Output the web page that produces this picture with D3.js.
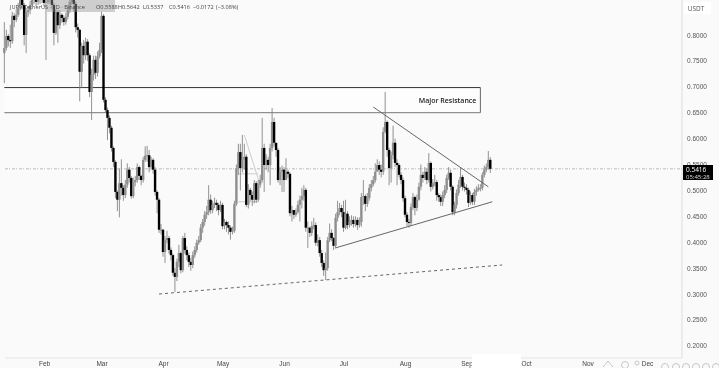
<!DOCTYPE html>
<html>
<head>
<meta charset="utf-8">
<script src="https://cdn.jsdelivr.net/npm/d3@7/dist/d3.min.js"></script>
<style>
  html, body { margin: 0; padding: 0; background: #fafafa; }
  svg { display: block; font-family: "Open Sans", "DejaVu Sans", sans-serif; }
</style>
</head>
<body>
<div id="chart"></div>
<script>
// Daily candles. Open of a candle = previous close.
const firstDay = "2024-01-12";
const firstOpen = 0.765;

const closes = [
  .775,.798,.790,.788,.837,.829,.839,.852,.871,.858,
  .800,.844,.848,.858,.868,.873,.864,.877,.868,.875,
  .862,.864,.873,.868,.858,.804,.844,.819,.839,.833,
  .825,.835,.848,.864,.873,.860,.815,.810,.729,.779,
  .761,.787,.761,.690,.723,.752,.727,.759,.771,.837,
  .675,.655,.640,.621,.582,.555,.497,.482,.514,.505,
  .491,.511,.540,.524,.489,.516,.520,.545,.528,.520,
  .559,.567,.568,.545,.559,.540,.497,.482,.424,.424,
  .381,.404,.408,.385,.375,.341,.333,.362,.379,.346,
  .408,.385,.375,.362,.356,.375,.385,.399,.404,.428,
  .439,.453,.458,.482,.462,.472,.476,.472,.462,.472,
  .431,.439,.433,.428,.420,.422,.474,.543,.574,.543,
  .559,.565,.472,.501,.491,.482,.514,.482,.511,.520,
  .582,.549,.559,.549,.582,.632,.592,.578,.520,.536,
  .540,.520,.536,.532,.456,.462,.453,.458,.472,.482,
  .489,.501,.428,.428,.418,.431,.433,.399,.404,.379,
  .360,.346,.350,.404,.418,.408,.393,.447,.458,.466,
  .458,.428,.455,.433,.439,.443,.435,.443,.433,.439,
  .487,.489,.474,.485,.505,.512,.520,.536,.549,.540,
  .536,.613,.632,.578,.543,.568,.592,.553,.549,.530,
  .520,.485,.453,.439,.437,.468,.487,.466,.482,.507,
  .530,.524,.536,.520,.553,.507,.514,.516,.491,.487,
  .478,.491,.501,.524,.534,.507,.458,.472,.495,.511,
  .526,.507,.505,.501,.476,.491,.478,.497,.501,.505,
  .505,.530,.540,.545,.559,.5416
];

const highs = [
  .825,.810,.802,.820,.845,.842,.850,.862,.880,.878,
  .862,.852,.856,.866,.876,.880,.875,.885,.880,.882,
  .880,.872,.880,.878,.870,.862,.850,.848,.848,.842,
  .838,.843,.855,.870,.880,.878,.865,.822,.812,.785,
  .790,.795,.792,.765,.735,.760,.760,.768,.785,.845,
  .840,.680,.660,.645,.625,.585,.558,.500,.542,.560,
  .510,.520,.552,.545,.528,.525,.528,.552,.548,.530,
  .565,.585,.586,.578,.565,.562,.545,.500,.485,.435,
  .426,.412,.422,.412,.390,.378,.350,.368,.395,.382,
  .412,.418,.392,.380,.370,.382,.392,.405,.412,.435,
  .445,.460,.470,.510,.492,.480,.486,.482,.476,.480,
  .476,.445,.442,.440,.432,.430,.480,.550,.590,.590,
  .607,.590,.570,.512,.505,.498,.520,.518,.520,.530,
  .640,.590,.570,.565,.590,.659,.640,.590,.582,.545,
  .548,.545,.562,.540,.535,.470,.462,.465,.480,.490,
  .505,.510,.505,.440,.430,.440,.447,.438,.415,.410,
  .385,.365,.380,.410,.436,.425,.410,.455,.480,.476,
  .472,.480,.482,.460,.450,.452,.450,.450,.448,.448,
  .495,.520,.492,.495,.512,.520,.528,.552,.560,.556,
  .550,.622,.690,.635,.582,.575,.625,.600,.560,.552,
  .535,.525,.490,.458,.445,.475,.495,.490,.492,.515,
  .550,.536,.545,.542,.572,.556,.522,.530,.520,.495,
  .492,.498,.510,.530,.545,.540,.510,.478,.502,.520,
  .545,.530,.515,.512,.505,.498,.495,.503,.508,.512,
  .512,.535,.548,.552,.576,.5642
];

const lows = [
  .707,.770,.778,.775,.783,.815,.825,.835,.848,.850,
  .780,.765,.835,.840,.855,.860,.855,.858,.860,.862,
  .855,.752,.860,.860,.850,.780,.800,.785,.812,.824,
  .818,.820,.830,.842,.858,.845,.805,.795,.672,.698,
  .745,.752,.750,.680,.636,.712,.715,.720,.755,.765,
  .670,.650,.597,.610,.575,.545,.485,.460,.448,.490,
  .480,.485,.505,.515,.484,.485,.508,.515,.520,.510,
  .515,.555,.555,.535,.540,.532,.490,.456,.418,.415,
  .372,.360,.398,.378,.365,.335,.304,.325,.352,.340,
  .342,.378,.365,.352,.345,.350,.370,.380,.395,.400,
  .418,.432,.445,.452,.455,.456,.466,.460,.452,.458,
  .425,.425,.420,.415,.405,.415,.418,.470,.530,.500,
  .535,.540,.468,.465,.480,.470,.475,.476,.478,.505,
  .515,.497,.540,.535,.510,.575,.585,.565,.515,.510,
  .497,.497,.520,.524,.450,.440,.445,.449,.455,.440,
  .465,.480,.420,.389,.410,.412,.425,.393,.392,.372,
  .352,.335,.327,.345,.400,.402,.385,.388,.440,.452,
  .448,.420,.425,.425,.428,.432,.428,.430,.424,.428,
  .430,.472,.460,.468,.480,.498,.508,.515,.538,.530,
  .525,.530,.610,.565,.510,.515,.560,.545,.510,.525,
  .512,.478,.448,.431,.428,.432,.462,.452,.460,.480,
  .500,.515,.520,.512,.515,.498,.502,.508,.480,.478,
  .470,.470,.485,.495,.520,.500,.452,.452,.465,.490,
  .505,.500,.498,.492,.468,.472,.472,.472,.490,.498,
  .498,.500,.525,.535,.540,.5337
];

const priceTicks = [.8,.75,.7,.65,.6,.55,.5,.45,.4,.35,.3,.25,.2];
const lastPrice = 0.5416;

// Drawn lines: [date, price] end points
const fallingLine = [["2024-07-16", .661], ["2024-09-12", .507]];
const risingLine = [["2024-06-27", .389], ["2024-09-14", .478]];
const baseLine = [["2024-03-30", .300], ["2024-09-19", .356]];
const sketchLines = [
  [["2024-05-12", .607], ["2024-05-20", .510]],
  [["2024-05-09", .478], ["2024-05-19", .478]],
  [["2024-05-09", .532], ["2024-05-19", .532]]
];
const resistance = { label: "Major Resistance", from: "2024-01-12", to: "2024-09-08", top: .6985, bottom: .65 };

const headerParts = [
  ["JUP / TetherUS · 1D · Binance", 10],
  ["O0.5588", 96],
  ["H0.5642", 118],
  ["L0.5337", 143],
  ["C0.5416", 169],
  ["−0.0172", 193],
  ["(−3.08%)", 216]
];

const width = 719, height = 368;
const parseDay = d3.utcParse("%Y-%m-%d");

const svg = d3.select("#chart").append("svg")
  .attr("width", width)
  .attr("height", height);

// the reference is a soft upscaled screenshot
svg.append("defs").append("filter")
  .attr("id", "soft")
  .attr("x", 0).attr("y", 0).attr("width", 1).attr("height", 1)
  .append("feGaussianBlur").attr("stdDeviation", 0.5);

const root = svg.append("g").attr("filter", "url(#soft)");
root.append("rect").attr("width", width).attr("height", height).attr("fill", "#fafafa");

// Scales
const x = d3.scaleUtc()
  .domain([parseDay("2024-02-01"), parseDay("2024-12-01")])
  .range([44, 647]);
const y = d3.scaleLinear()
  .domain([.2, .8])
  .range([345.8, 35]);

const candles = closes.map((c, i) => ({
  date: d3.utcDay.offset(parseDay(firstDay), i),
  open: i ? closes[i - 1] : firstOpen,
  close: c,
  high: highs[i],
  low: lows[i]
}));

// Resistance box, under the candles
root.append("rect")
  .attr("x", x(parseDay(resistance.from)))
  .attr("y", y(resistance.top))
  .attr("width", x(parseDay(resistance.to)) - x(parseDay(resistance.from)))
  .attr("height", y(resistance.bottom) - y(resistance.top))
  .attr("fill", "#fdfdfd");
root.append("line")
  .attr("x1", x(parseDay(resistance.from))).attr("x2", x(parseDay(resistance.to)))
  .attr("y1", y(resistance.top)).attr("y2", y(resistance.top))
  .attr("stroke", "#333");
root.append("line")
  .attr("x1", x(parseDay(resistance.from))).attr("x2", x(parseDay(resistance.to)))
  .attr("y1", y(resistance.bottom)).attr("y2", y(resistance.bottom))
  .attr("stroke", "#777");
root.append("line")
  .attr("x1", x(parseDay(resistance.to))).attr("x2", x(parseDay(resistance.to)))
  .attr("y1", y(resistance.top)).attr("y2", y(resistance.bottom))
  .attr("stroke", "#666");
root.append("text")
  .attr("x", x(parseDay(resistance.to)) - 4)
  .attr("y", (y(resistance.top) + y(resistance.bottom)) / 2 + 2.5)
  .attr("text-anchor", "end")
  .attr("font-size", 7)
  .attr("font-weight", 600)
  .attr("fill", "#222")
  .text(resistance.label);

// Current price line
root.append("line")
  .attr("x1", 5).attr("x2", 682)
  .attr("y1", y(lastPrice)).attr("y2", y(lastPrice))
  .attr("stroke", "#bbb")
  .attr("stroke-dasharray", "3,1,1,2");

// Thin sketch lines behind the candles
const lineGen = d3.line().x(d => x(parseDay(d[0]))).y(d => y(d[1]));
root.selectAll("path.sketch")
  .data(sketchLines)
  .enter()
  .append("path")
  .attr("class", "sketch")
  .attr("d", lineGen)
  .attr("fill", "none")
  .attr("stroke", "#ccc");

// Candles
const upColor = "#8f8f8f", downColor = "#000000";
const candleG = root.append("g");
candleG.selectAll("line")
  .data(candles)
  .enter()
  .append("line")
  .attr("x1", d => x(d.date))
  .attr("x2", d => x(d.date))
  .attr("y1", d => y(d.high))
  .attr("y2", d => y(d.low))
  .attr("stroke", "#777")
  .attr("stroke-width", 0.8);
candleG.selectAll("rect")
  .data(candles)
  .enter()
  .append("rect")
  .attr("x", d => x(d.date) - 1.2)
  .attr("width", 2.4)
  .attr("y", d => y(Math.max(d.open, d.close)))
  .attr("height", d => Math.max(1, Math.abs(y(d.open) - y(d.close))))
  .attr("fill", d => d.close >= d.open ? upColor : downColor);

// Trend lines
[fallingLine, risingLine].forEach(l => {
  root.append("path").attr("d", lineGen(l)).attr("fill", "none").attr("stroke", "#666");
});
root.append("path").attr("d", lineGen(baseLine))
  .attr("fill", "none").attr("stroke", "#666").attr("stroke-dasharray", "3,3");

// Price axis
root.append("line")
  .attr("x1", 682).attr("x2", 682).attr("y1", 0).attr("y2", 358)
  .attr("stroke", "#ddd");
const yAxis = root.append("g")
  .attr("transform", "translate(682,0)")
  .call(d3.axisRight(y).tickValues(priceTicks).tickSize(0).tickPadding(5).tickFormat(d3.format(".4f")));
yAxis.select(".domain").remove();
yAxis.selectAll("text").attr("font-size", 6.5).attr("fill", "#555").attr("font-family", "inherit");

// USDT tag
root.append("rect").attr("x", 684).attr("y", 2).attr("width", 27).attr("height", 12).attr("fill", "#fff");
root.append("text").attr("x", 696).attr("y", 10.5).attr("text-anchor", "middle")
  .attr("font-size", 6.5).attr("fill", "#555").text("USDT");

// Last price tag
root.append("rect").attr("x", 683).attr("y", 165).attr("width", 30).attr("height", 15).attr("fill", "#050505");
root.append("text").attr("x", 686).attr("y", 171.5).attr("font-size", 6.5).attr("fill", "#fff").text(d3.format(".4f")(lastPrice));
root.append("text").attr("x", 686).attr("y", 178.5).attr("font-size", 6).attr("fill", "#ddd").text("05:45:28");

// Time axis
root.append("line")
  .attr("x1", 5).attr("x2", 682).attr("y1", 358).attr("y2", 358)
  .attr("stroke", "#e6e6e6");
const xAxis = root.append("g")
  .attr("transform", "translate(0,358)")
  .call(d3.axisBottom(x).ticks(d3.utcMonth.every(1)).tickSize(0).tickPadding(3).tickFormat(d3.utcFormat("%b")));
xAxis.select(".domain").remove();
xAxis.selectAll("text").attr("font-size", 6.5).attr("fill", "#444").attr("font-family", "inherit");

// Patch over the axis and the ghost toolbar at the corner
root.append("rect").attr("x", 472).attr("y", 354).attr("width", 49).attr("height", 14).attr("fill", "#fff");
const toolbar = root.append("g").attr("fill", "none").attr("stroke", "#c8c8c8");
toolbar.append("path").attr("d", "M603 367l5-6 5 6");
toolbar.append("circle").attr("cx", 625).attr("cy", 365).attr("r", 3.5);
toolbar.append("circle").attr("cx", 637).attr("cy", 363).attr("r", 2);
[665, 676, 686, 696, 706, 716].forEach(cx => {
  toolbar.append("circle").attr("cx", cx).attr("cy", 367).attr("r", 3.5);
});

// Header
root.append("rect").attr("x", 47).attr("y", 0).attr("width", 68).attr("height", 12).attr("fill", "#999").attr("opacity", 0.45);
root.selectAll("text.header")
  .data(headerParts)
  .enter()
  .append("text")
  .attr("class", "header")
  .attr("x", d => d[1])
  .attr("y", 9)
  .attr("font-size", 5.6)
  .attr("fill", "#444")
  .text(d => d[0]);
</script>
</body>
</html>
